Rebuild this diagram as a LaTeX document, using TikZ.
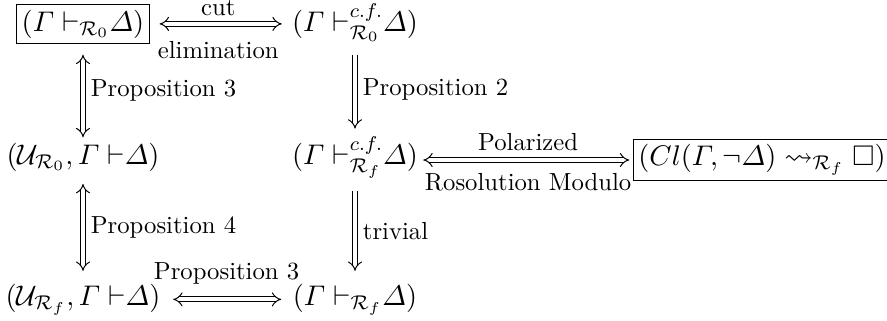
\documentclass[tikz,border=0pt]{standalone}
\usepackage{fix-cm}
\usepackage{amsmath}
\usepackage{amssymb}
\usepackage{tikz}
\usetikzlibrary{arrows.meta}

\newcommand{\tight}{\mkern-5mu}

\begin{document}
\begin{tikzpicture}[x=0.405pt, y=-0.405pt,
    every node/.style={inner sep=2pt},
    form/.style={anchor=base, font=\fontsize{11.5}{14}\selectfont},
    boxform/.style={draw, font=\fontsize{11.5}{14}\selectfont},
    dimp/.style={double, double distance=1.6pt, -{Implies}},
    diff/.style={double, double distance=1.6pt, {Implies}-{Implies}}]
    \useasboundingbox (0,0) rectangle (887,320);
    \node [form, boxform] (RZ) at (83,31) {$(\varGamma \vdash_{\mathcal{R}_0}\tight \varDelta)$};
    \node [form] (RZcf) at (355,31) {$(\varGamma \vdash^{c.f.}_{\mathcal{R}_0}\tight \varDelta)$};
    \node [form] (URZ) at (83,164) {$(\mathcal{U}_{\mathcal{R}_0}, \varGamma \vdash\tight \varDelta)$};
    \node [form] (RFcf) at (355,164) {$(\varGamma \vdash^{c.f.}_{\mathcal{R}_f}\tight \varDelta)$};
    \node [boxform] (Cl) at (762,160) {$(Cl(\varGamma, \neg\varDelta) \leadsto_{\mathcal{R}_f} \Box)$};
    \node [form] (URF) at (83,305) {$(\mathcal{U}_{\mathcal{R}_f}, \varGamma \vdash\tight \varDelta)$};
    \node [form] (RF) at (355,305) {$(\varGamma \vdash_{\mathcal{R}_f}\tight \varDelta)$};
    \draw [diff, shorten <=4pt, shorten >=2pt] (RZ) -- (RZ -| RZcf.west)
        node[midway, above=1.2pt]{cut} node[midway, below=4.9pt]{elimination};
    \draw [diff, shorten >=1.5pt] (RFcf.east |- Cl.west) -- (Cl.west)
        node[midway, above=1.6pt]{Polarized} node[midway, below=3.3pt]{Rosolution Modulo};
    \draw [diff, shorten <=3pt, shorten >=2.5pt] (URF) -- (URF -| RF.west)
        node[midway, above=3.8pt]{Proposition 3};
    \draw [diff, shorten <=4.5pt] (RZ) -- (URZ) node[midway, right=1pt]{Proposition 3};
    \draw [dimp, shorten <=3pt, shorten >=1pt] (RZcf) -- (RFcf) node[midway, right=1pt]{Proposition 2};
    \draw [diff, shorten <=3pt, shorten >=3pt] (URZ) -- (URF) node[midway, right=1pt]{Proposition 4};
    \draw [dimp, shorten <=3pt, shorten >=3pt] (RFcf) -- (RF) node[midway, right=1pt]{trivial};
\end{tikzpicture}
\end{document}
